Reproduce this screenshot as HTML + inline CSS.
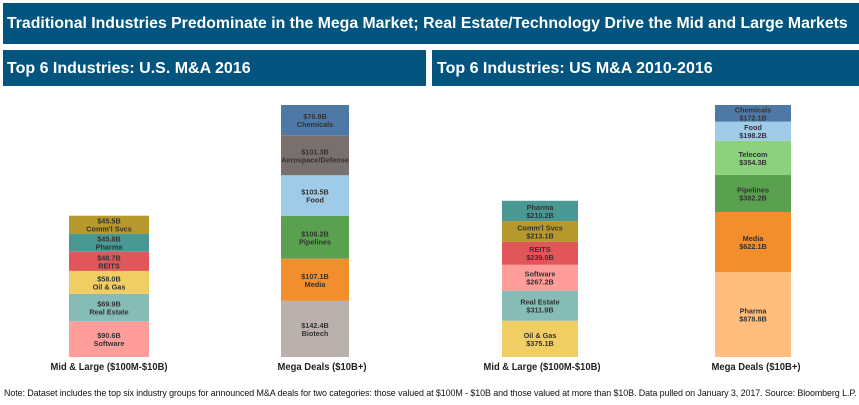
<!DOCTYPE html>
<html><head><meta charset="utf-8"><style>
html,body{margin:0;padding:0;background:#fff;}
body{width:859px;height:405px;overflow:hidden;position:relative;font-family:"Liberation Sans",Arial,sans-serif;}
.hdr{position:absolute;background:#03557f;color:#fff;font-weight:bold;white-space:nowrap;overflow:hidden;}
</style></head><body>
<div class="hdr" style="left:3px;top:3px;width:856px;height:41px;line-height:42px;font-size:15.8px;padding-left:4px;box-sizing:border-box;">Traditional Industries Predominate in the Mega Market; Real Estate/Technology Drive the Mid and Large Markets</div>
<div class="hdr" style="left:3px;top:50px;width:423px;height:36px;line-height:38px;font-size:16px;padding-left:4px;box-sizing:border-box;">Top 6 Industries: U.S. M&amp;A 2016</div>
<div class="hdr" style="left:432px;top:50px;width:427px;height:36px;line-height:38px;font-size:16px;padding-left:5px;box-sizing:border-box;">Top 6 Industries: US M&amp;A 2010-2016</div>
<svg id="chart" width="859" height="405" style="position:absolute;left:0;top:0"></svg>
<div style="position:absolute;left:4px;top:388px;font-size:9.5px;color:#111;white-space:nowrap;transform:scaleX(0.94);transform-origin:left top;letter-spacing:-0.1px;">Note: Dataset includes the top six industry groups for announced M&amp;A deals for two categories: those valued at $100M - $10B and those valued at more than $10B. Data pulled on January 3, 2017. Source: Bloomberg L.P.</div>
<script>
// Left chart (2016), stacked bottom to top
const l_mid_names=["Software","Real Estate","Oil & Gas","REITS","Pharma","Comm'l Svcs"];
const l_mid_vals=[90.6,69.9,58.0,48.7,45.8,45.5];
const l_mid_cols=["#ff9d9a","#86bcb6","#f1ce63","#e15759","#499894","#b6992d"];
const l_mega_names=["Biotech","Media","Pipelines","Food","Aerospace/Defense","Chemicals"];
const l_mega_vals=[142.4,107.1,108.2,103.5,101.3,76.9];
const l_mega_cols=["#bab0ac","#f28e2b","#59a14f","#a0cbe8","#79706e","#4e79a7"];
// Right chart (2010-2016)
const r_mid_names=["Oil & Gas","Real Estate","Software","REITS","Comm'l Svcs","Pharma"];
const r_mid_vals=[375.1,311.9,267.2,239.0,213.1,210.2];
const r_mid_cols=["#f1ce63","#86bcb6","#ff9d9a","#e15759","#b6992d","#499894"];
const r_mega_names=["Pharma","Media","Pipelines","Telecom","Food","Chemicals"];
const r_mega_vals=[878.8,622.1,382.2,354.3,198.2,172.1];
const r_mega_cols=["#ffbe7d","#f28e2b","#59a14f","#8cd17d","#a0cbe8","#4e79a7"];
const categories=["Mid & Large ($100M-$10B)","Mega Deals ($10B+)"];

const svg=document.getElementById('chart');
const NS='http://www.w3.org/2000/svg';
const baseY=357;
function mk(tag,attrs){const e=document.createElementNS(NS,tag);for(const k in attrs)e.setAttribute(k,attrs[k]);svg.appendChild(e);return e;}
function yScaleL(v){return v*252/639.4;}
function yScaleR(v){return v*252/2607.7;}
function fmt(v){return '$'+v.toFixed(1)+'B';}
function drawBar(x,w,names,vals,cols,scale,valueFirst,key){
  let y=baseY;
  for(let i=0;i<vals.length;i++){
    const h=scale(vals[i]);
    y-=h;
    const r=mk('rect',{x:x,y:y,width:w,height:h,fill:cols[i]});
    
    
    const cx=x+w/2, cy=y+h/2;
    const l1=valueFirst?fmt(vals[i]):names[i];
    const l2=valueFirst?names[i]:fmt(vals[i]);
    const t1=mk('text',{x:cx,y:cy-1,'text-anchor':'middle','font-size':'7.3','font-weight':'bold',fill:'#333'});
    t1.textContent=l1;
    
    
    const t2=mk('text',{x:cx,y:cy+7,'text-anchor':'middle','font-size':'7.3','font-weight':'bold',fill:'#333'});
    t2.textContent=l2;
    
    
  }
}
drawBar(69,80,l_mid_names,l_mid_vals,l_mid_cols,yScaleL,true,'left-mid');
drawBar(281,68,l_mega_names,l_mega_vals,l_mega_cols,yScaleL,true,'left-mega');
drawBar(502,76,r_mid_names,r_mid_vals,r_mid_cols,yScaleR,false,'right-mid');
drawBar(715,76,r_mega_names,r_mega_vals,r_mega_cols,yScaleR,false,'right-mega');
const catX=[109,322,542,756];
const catW=[117,89];
for(let i=0;i<catX.length;i++){
  const t=mk('text',{x:catX[i],y:370,'text-anchor':'middle','font-size':'10','font-weight':'bold',fill:'#222',textLength:catW[i%2],lengthAdjust:'spacingAndGlyphs'});
  t.textContent=categories[i%2];
  
  
}
</script>
</body></html>
